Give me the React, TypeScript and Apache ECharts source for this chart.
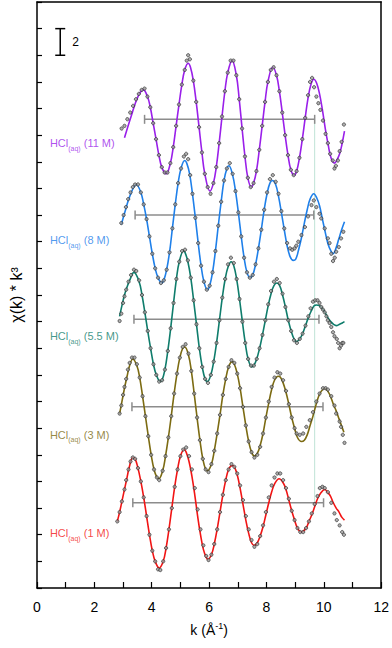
import React, { useEffect, useRef } from "react";
import * as echarts from "echarts";

const FONT = '"Liberation Sans", Arial, Helvetica, sans-serif';

// ---- data (plotted values include the vertical offsets of each spectrum) ----
const concentrations = ["11 M", "8 M", "5.5 M", "3 M", "1 M"];
const colors = ["#9a1fea", "#1f80ea", "#0f7d6c", "#7c6b12", "#f21414"];
const labelPos = [
  [0.45, 33.3],
  [0.45, 26.0],
  [0.45, 18.8],
  [0.45, 11.4],
  [0.45, 4.0],
];
// [k start, k end, level]
const windowBars = [
  [3.75, 9.68, 35.19],
  [3.42, 9.65, 28.0],
  [3.38, 9.83, 20.17],
  [3.31, 9.97, 13.61],
  [3.34, 9.99, 6.4],
];
const cutLine = [
  [9.68, 35.19],
  [9.68, 6.4],
];
// [k, y from, y to]
const scaleBar = [[0.81, 40, 42]];
const scaleBarLabel = "2";

const fit11 = [
  [3.05, 33.8], [3.28, 35.4], [3.52, 36.9], [3.71, 37.4], [3.85, 36.9], [3.95, 36.1], [4.05, 34.9], [4.15, 33.7],
  [4.25, 32.5], [4.35, 31.6], [4.5, 31.1], [4.65, 31.9], [4.75, 33.1], [4.85, 34.7], [4.95, 36.3], [5.05, 37.8],
  [5.15, 38.9], [5.27, 39.4], [5.35, 39.1], [5.45, 38.1], [5.55, 36.5], [5.65, 34.6], [5.75, 32.7], [5.85, 31.1],
  [6.03, 29.8], [6.15, 30.4], [6.25, 31.6], [6.35, 33.4], [6.45, 35.4], [6.55, 37.3], [6.65, 38.7], [6.8, 39.6],
  [6.95, 38.5], [7.05, 36.7], [7.15, 34.5], [7.25, 32.4], [7.35, 30.8], [7.47, 30.1], [7.55, 30.4], [7.65, 31.3],
  [7.75, 32.9], [7.85, 34.7], [7.95, 36.5], [8.05, 38.0], [8.22, 39.1], [8.35, 38.5], [8.45, 37.3], [8.55, 35.7],
  [8.65, 34.0], [8.75, 32.5], [8.85, 31.4], [8.96, 31.0], [9.05, 31.3], [9.15, 32.3], [9.25, 33.7], [9.35, 35.3],
  [9.45, 36.8], [9.55, 37.8], [9.65, 38.2], [9.75, 37.9], [9.85, 37.1], [9.95, 35.9], [10.05, 34.5], [10.15, 33.3],
  [10.25, 32.3], [10.37, 31.9], [10.47, 32.2], [10.55, 32.6], [10.63, 33.3], [10.72, 34.3],
];
const dots11 = [
  [2.95, 34.5], [3.05, 34.7], [3.15, 35.2], [3.25, 35.7], [3.35, 36.2], [3.45, 36.7], [3.55, 37.1], [3.65, 37.4],
  [3.75, 37.5], [3.85, 36.9], [3.95, 36.1], [4.05, 34.9], [4.15, 33.7], [4.25, 32.5], [4.35, 31.6], [4.45, 31.2],
  [4.55, 31.2], [4.65, 31.9], [4.75, 33.1], [4.85, 34.7], [4.95, 36.3], [5.05, 37.8], [5.15, 38.9], [5.22, 39.6],
  [5.27, 40.0], [5.33, 39.7], [5.45, 38.1], [5.55, 36.5], [5.65, 34.6], [5.75, 32.7], [5.85, 31.1], [5.95, 30.1],
  [6.05, 29.6], [6.15, 30.4], [6.25, 31.6], [6.35, 33.4], [6.45, 35.4], [6.55, 37.3], [6.65, 38.7], [6.75, 39.6],
  [6.85, 39.6], [6.95, 38.5], [7.05, 36.7], [7.15, 34.5], [7.25, 32.4], [7.35, 30.8], [7.45, 30.1], [7.55, 30.4],
  [7.65, 31.3], [7.75, 32.9], [7.85, 34.7], [7.95, 36.5], [8.05, 38.0], [8.15, 38.9], [8.25, 39.1], [8.35, 38.5],
  [8.45, 37.3], [8.55, 35.7], [8.65, 34.0], [8.75, 32.5], [8.85, 31.4], [8.95, 31.0], [9.05, 31.3], [9.15, 32.3],
  [9.25, 33.7], [9.35, 35.3], [9.45, 37.0], [9.52, 38.0], [9.59, 38.3], [9.66, 37.6], [9.74, 36.9], [9.81, 36.4],
  [9.88, 35.9], [9.97, 35.1], [10.06, 34.1], [10.14, 33.4], [10.22, 32.6], [10.31, 32.1], [10.37, 31.5],
  [10.42, 31.7], [10.49, 32.1], [10.55, 32.8], [10.62, 33.5], [10.7, 34.8],
];

const fit8 = [
  [2.94, 27.3], [3.1, 28.5], [3.25, 29.5], [3.46, 30.3], [3.62, 29.7], [3.72, 28.8], [3.82, 27.7], [3.92, 26.4],
  [4.02, 25.1], [4.12, 24.0], [4.22, 23.3], [4.35, 22.9], [4.42, 23.1], [4.52, 23.9], [4.62, 25.2], [4.72, 27.0],
  [4.82, 28.8], [4.92, 30.4], [5.02, 31.5], [5.15, 32.1], [5.22, 31.9], [5.32, 31.1], [5.42, 29.6], [5.52, 27.8],
  [5.62, 25.9], [5.72, 24.2], [5.82, 23.0], [5.94, 22.4], [6.02, 22.7], [6.12, 23.7], [6.22, 25.3], [6.32, 27.2],
  [6.42, 29.0], [6.52, 30.6], [6.62, 31.5], [6.69, 31.7], [6.82, 31.0], [6.92, 29.8], [7.02, 28.2], [7.12, 26.4],
  [7.22, 24.8], [7.32, 23.7], [7.43, 23.3], [7.52, 23.5], [7.62, 24.3], [7.72, 25.5], [7.82, 26.9], [7.92, 28.4],
  [8.02, 29.6], [8.12, 30.4], [8.21, 30.6], [8.32, 30.3], [8.42, 29.4], [8.52, 28.2], [8.62, 26.9], [8.72, 25.7],
  [8.82, 24.9], [8.93, 24.6], [9.02, 24.7], [9.12, 25.4], [9.22, 26.3], [9.32, 27.4], [9.42, 28.4], [9.52, 29.2],
  [9.65, 29.6], [9.75, 29.3], [9.85, 28.7], [9.95, 27.7], [10.05, 26.7], [10.15, 25.8], [10.25, 25.3], [10.32, 25.1],
  [10.42, 25.5], [10.52, 26.2], [10.62, 26.9], [10.72, 27.5],
];
const dots8 = [
  [2.94, 27.4], [3.02, 28.0], [3.1, 28.6], [3.18, 29.2], [3.26, 29.7], [3.34, 30.1], [3.42, 30.3], [3.52, 30.3],
  [3.62, 29.7], [3.72, 28.8], [3.82, 27.7], [3.92, 26.4], [4.02, 25.1], [4.12, 24.0], [4.22, 23.3], [4.32, 22.9],
  [4.42, 23.1], [4.52, 23.9], [4.62, 25.2], [4.72, 27.0], [4.82, 28.8], [4.92, 30.4], [5.02, 31.5], [5.12, 32.4],
  [5.2, 32.6], [5.27, 32.2], [5.34, 31.0], [5.42, 29.6], [5.52, 27.8], [5.62, 25.9], [5.72, 24.2], [5.82, 23.0],
  [5.92, 22.4], [6.02, 22.7], [6.12, 23.7], [6.22, 25.3], [6.32, 27.2], [6.42, 29.0], [6.52, 30.6], [6.62, 31.5],
  [6.72, 31.9], [6.82, 31.1], [6.92, 29.8], [7.02, 28.2], [7.12, 26.4], [7.22, 24.8], [7.32, 23.7], [7.42, 23.3],
  [7.52, 23.5], [7.62, 24.3], [7.72, 25.5], [7.82, 26.9], [7.92, 28.4], [8.02, 29.7], [8.12, 30.7], [8.22, 31.0],
  [8.32, 30.5], [8.42, 29.6], [8.52, 28.3], [8.62, 27.0], [8.72, 25.9], [8.82, 25.5], [8.9, 25.4], [8.98, 25.5],
  [9.04, 25.7], [9.11, 26.0], [9.22, 26.5], [9.34, 27.1], [9.45, 27.9], [9.57, 28.75], [9.65, 29.1], [9.74, 28.6],
  [9.85, 28.1], [9.91, 27.75], [10.03, 27.0], [10.14, 26.25], [10.2, 25.9], [10.26, 25.1], [10.32, 24.55],
  [10.38, 24.8], [10.43, 25.25], [10.52, 25.6], [10.6, 26.25], [10.68, 26.75],
];

const fit55 = [
  [2.88, 20.4], [2.97, 21.3], [3.05, 22.0], [3.14, 22.6], [3.23, 23.1], [3.38, 23.7], [3.56, 23.0], [3.66, 22.0],
  [3.76, 20.7], [3.86, 19.3], [3.96, 18.0], [4.06, 16.8], [4.16, 16.0], [4.3, 15.5], [4.36, 15.6], [4.46, 16.4],
  [4.56, 17.8], [4.66, 19.5], [4.76, 21.4], [4.86, 23.2], [4.96, 24.5], [5.11, 25.3], [5.16, 25.2], [5.26, 24.5],
  [5.36, 23.3], [5.46, 21.6], [5.56, 19.8], [5.66, 18.0], [5.76, 16.6], [5.86, 15.7], [5.94, 15.5], [6.06, 16.0],
  [6.16, 17.0], [6.26, 18.4], [6.36, 20.1], [6.46, 21.8], [6.56, 23.2], [6.66, 24.1], [6.77, 24.5], [6.86, 24.2],
  [6.96, 23.2], [7.06, 21.7], [7.16, 20.0], [7.26, 18.4], [7.36, 17.2], [7.49, 16.6], [7.56, 16.7], [7.66, 17.2],
  [7.76, 18.0], [7.86, 19.0], [7.96, 20.1], [8.06, 21.2], [8.16, 22.1], [8.26, 22.7], [8.36, 22.9], [8.46, 22.7],
  [8.56, 22.0], [8.66, 21.1], [8.76, 20.1], [8.86, 19.3], [8.96, 18.7], [9.05, 18.5], [9.16, 18.7], [9.26, 19.1],
  [9.36, 19.7], [9.46, 20.3], [9.56, 20.8], [9.66, 21.2], [9.74, 21.25], [9.84, 21.2], [9.94, 21.0], [10.04, 20.7],
  [10.14, 20.3], [10.24, 20.0], [10.34, 19.8], [10.43, 19.7], [10.55, 19.8], [10.64, 19.9], [10.72, 20.0],
];
const dots55 = [
  [2.88, 20.05], [2.94, 20.6], [3.0, 21.4], [3.05, 21.9], [3.11, 22.4], [3.19, 23.0], [3.28, 23.5], [3.38, 23.9],
  [3.46, 23.8], [3.56, 23.1], [3.66, 22.0], [3.76, 20.7], [3.86, 19.3], [3.96, 18.0], [4.06, 16.8], [4.16, 16.0],
  [4.26, 15.5], [4.36, 15.6], [4.46, 16.4], [4.56, 17.8], [4.66, 19.5], [4.76, 21.4], [4.86, 23.2], [4.96, 24.5],
  [5.06, 25.3], [5.16, 25.4], [5.26, 24.6], [5.36, 23.3], [5.46, 21.6], [5.56, 19.8], [5.66, 18.0], [5.76, 16.6],
  [5.86, 15.7], [5.96, 15.4], [6.06, 16.0], [6.16, 17.0], [6.26, 18.4], [6.36, 20.1], [6.46, 21.8], [6.56, 23.2],
  [6.66, 24.3], [6.76, 24.8], [6.86, 24.4], [6.96, 23.2], [7.06, 21.7], [7.16, 20.0], [7.26, 18.4], [7.36, 17.2],
  [7.46, 16.7], [7.56, 16.7], [7.66, 17.2], [7.76, 18.0], [7.86, 19.0], [7.96, 20.1], [8.06, 21.3], [8.16, 22.3],
  [8.26, 23.0], [8.36, 23.2], [8.46, 22.9], [8.56, 22.1], [8.66, 21.1], [8.76, 20.1], [8.86, 19.3], [8.96, 18.6],
  [9.06, 18.4], [9.16, 18.7], [9.26, 19.1], [9.36, 19.7], [9.46, 20.4], [9.54, 21.0], [9.62, 21.5], [9.7, 21.6],
  [9.78, 21.6], [9.85, 21.4], [9.91, 21.1], [9.97, 20.9], [10.03, 20.7], [10.09, 20.4], [10.14, 20.1], [10.2, 19.9],
  [10.26, 19.6], [10.32, 19.2], [10.37, 18.9], [10.45, 18.7], [10.5, 18.4], [10.55, 18.0], [10.6, 18.2],
  [10.64, 18.4], [10.68, 18.4],
];

const fit3 = [
  [2.88, 13.1], [2.97, 14.1], [3.05, 15.0], [3.14, 15.9], [3.23, 16.7], [3.34, 17.2], [3.48, 16.7], [3.58, 15.8],
  [3.68, 14.4], [3.78, 12.9], [3.88, 11.4], [3.98, 10.0], [4.08, 8.9], [4.18, 8.3], [4.24, 8.2], [4.38, 8.8],
  [4.48, 9.9], [4.58, 11.3], [4.68, 12.9], [4.78, 14.6], [4.88, 16.1], [4.98, 17.3], [5.08, 18.0], [5.15, 18.1],
  [5.28, 17.5], [5.38, 16.3], [5.48, 14.6], [5.58, 12.8], [5.68, 11.1], [5.78, 9.7], [5.88, 8.9], [5.94, 8.8],
  [6.08, 9.3], [6.18, 10.3], [6.28, 11.6], [6.38, 13.0], [6.48, 14.5], [6.58, 15.7], [6.68, 16.6], [6.8, 17.0],
  [6.88, 16.8], [6.98, 16.1], [7.08, 15.0], [7.18, 13.6], [7.28, 12.2], [7.38, 11.0], [7.48, 10.2], [7.58, 9.9],
  [7.68, 10.1], [7.78, 10.7], [7.88, 11.6], [7.98, 12.8], [8.08, 13.9], [8.18, 14.9], [8.28, 15.6], [8.41, 15.9],
  [8.48, 15.85], [8.58, 15.4], [8.68, 14.7], [8.78, 13.8], [8.88, 12.8], [8.98, 12.0], [9.08, 11.3], [9.22, 11.0],
  [9.32, 11.1], [9.42, 11.5], [9.52, 12.2], [9.62, 12.9], [9.72, 13.7], [9.82, 14.4], [9.92, 14.8], [10.03, 15.0],
  [10.13, 14.8], [10.23, 14.4], [10.33, 13.8], [10.43, 13.3], [10.53, 12.7], [10.63, 12.1], [10.7, 11.7],
];
const dots3 = [
  [2.88, 13.1], [2.94, 13.7], [3.0, 14.5], [3.05, 15.1], [3.11, 15.7], [3.17, 16.4], [3.23, 16.9], [3.31, 17.3],
  [3.4, 17.3], [3.48, 16.8], [3.58, 15.8], [3.68, 14.4], [3.78, 12.9], [3.88, 11.4], [3.98, 10.0], [4.08, 8.9],
  [4.18, 8.3], [4.26, 8.1], [4.38, 8.8], [4.48, 9.9], [4.58, 11.3], [4.68, 12.9], [4.78, 14.6], [4.88, 16.1],
  [4.98, 17.3], [5.08, 18.1], [5.18, 18.3], [5.28, 17.6], [5.38, 16.3], [5.48, 14.6], [5.58, 12.8], [5.68, 11.1],
  [5.78, 9.7], [5.88, 8.9], [5.98, 8.7], [6.08, 9.3], [6.18, 10.3], [6.28, 11.6], [6.38, 13.0], [6.48, 14.5],
  [6.58, 15.7], [6.68, 16.6], [6.78, 17.1], [6.88, 16.9], [6.98, 16.1], [7.08, 15.0], [7.18, 13.6], [7.28, 12.2],
  [7.38, 11.0], [7.48, 10.2], [7.58, 9.8], [7.68, 10.0], [7.78, 10.6], [7.88, 11.6], [7.98, 12.8], [8.08, 14.0],
  [8.18, 15.1], [8.28, 15.8], [8.38, 16.2], [8.48, 16.1], [8.58, 15.6], [8.68, 14.8], [8.78, 13.8], [8.88, 12.8],
  [8.98, 12.0], [9.05, 11.6], [9.16, 11.5], [9.28, 11.6], [9.39, 12.1], [9.51, 12.6], [9.62, 13.2], [9.74, 14.0],
  [9.85, 14.6], [9.97, 15.0], [10.06, 15.0], [10.14, 14.9], [10.26, 14.4], [10.37, 13.7], [10.43, 13.1],
  [10.55, 12.5], [10.6, 12.1], [10.66, 11.5], [10.72, 10.9],
];

const fit1 = [
  [2.8, 5.0], [2.88, 5.7], [2.96, 6.5], [3.05, 7.4], [3.13, 8.2], [3.22, 9.1], [3.34, 9.8], [3.42, 9.7],
  [3.52, 9.0], [3.62, 8.0], [3.72, 6.8], [3.82, 5.4], [3.92, 4.0], [4.02, 2.8], [4.12, 2.0], [4.26, 1.5],
  [4.4, 2.0], [4.5, 3.0], [4.6, 4.4], [4.7, 6.0], [4.8, 7.6], [4.9, 8.9], [5.0, 9.9], [5.13, 10.4], [5.2, 10.2],
  [5.3, 9.5], [5.4, 8.4], [5.5, 7.0], [5.6, 5.4], [5.7, 4.0], [5.8, 2.9], [5.9, 2.3], [5.96, 2.15], [6.08, 2.5],
  [6.18, 3.3], [6.28, 4.4], [6.38, 5.7], [6.48, 7.0], [6.58, 8.1], [6.68, 8.9], [6.8, 9.2], [6.88, 9.1],
  [6.98, 8.5], [7.08, 7.5], [7.18, 6.3], [7.28, 5.1], [7.38, 4.1], [7.48, 3.4], [7.57, 3.2], [7.68, 3.4],
  [7.78, 3.9], [7.88, 4.6], [7.98, 5.5], [8.08, 6.4], [8.18, 7.2], [8.28, 7.8], [8.44, 8.2], [8.58, 7.9],
  [8.68, 7.4], [8.78, 6.6], [8.88, 5.8], [8.98, 5.1], [9.08, 4.5], [9.22, 4.2], [9.38, 4.5], [9.48, 5.0],
  [9.58, 5.5], [9.68, 6.1], [9.78, 6.7], [9.88, 7.1], [10.03, 7.4], [10.13, 7.2], [10.23, 6.9], [10.33, 6.4],
  [10.43, 6.0], [10.53, 5.7], [10.63, 5.3], [10.72, 5.1],
];
const dots1 = [
  [2.8, 5.0], [2.88, 5.7], [2.96, 6.5], [3.05, 7.4], [3.11, 8.1], [3.19, 8.9], [3.26, 9.5], [3.34, 9.8],
  [3.42, 9.7], [3.52, 9.0], [3.62, 8.0], [3.72, 6.8], [3.82, 5.4], [3.92, 4.0], [4.02, 2.8], [4.12, 2.0],
  [4.22, 1.4], [4.3, 1.35], [4.4, 2.0], [4.5, 3.0], [4.6, 4.4], [4.7, 6.0], [4.8, 7.6], [4.9, 8.9], [5.0, 9.9],
  [5.1, 10.4], [5.2, 10.55], [5.3, 9.9], [5.4, 8.9], [5.5, 7.5], [5.6, 5.9], [5.7, 4.4], [5.8, 3.2], [5.9, 2.4],
  [5.98, 2.1], [6.08, 2.5], [6.18, 3.3], [6.28, 4.4], [6.38, 5.7], [6.48, 7.0], [6.58, 8.1], [6.68, 8.9],
  [6.78, 9.3], [6.88, 9.1], [6.98, 8.6], [7.08, 7.7], [7.18, 6.6], [7.28, 5.4], [7.38, 4.4], [7.48, 3.6],
  [7.58, 3.1], [7.68, 3.3], [7.78, 3.9], [7.88, 4.7], [7.98, 5.7], [8.08, 6.8], [8.18, 7.7], [8.28, 8.3],
  [8.38, 8.6], [8.48, 8.6], [8.58, 8.1], [8.68, 7.5], [8.78, 6.7], [8.88, 5.8], [8.98, 5.1], [9.08, 4.5],
  [9.18, 4.2], [9.28, 4.2], [9.38, 4.5], [9.48, 5.0], [9.58, 5.6], [9.68, 6.3], [9.78, 6.9], [9.86, 7.5],
  [9.95, 7.6], [10.03, 7.5], [10.14, 7.2], [10.26, 6.4], [10.37, 5.6], [10.45, 5.1], [10.55, 4.7], [10.64, 4.2],
  [10.7, 4.0],
];

const fits = [fit11, fit8, fit55, fit3, fit1];
const dots = [dots11, dots8, dots55, dots3, dots1];

export default function App() {
  const ref = useRef<HTMLDivElement>(null);

  useEffect(() => {
    if (!ref.current) return;
    const chart = echarts.init(ref.current, null, { renderer: "svg" });

    const fitSeries = fits.map((d, i) => ({
      type: "line",
      data: d,
      smooth: 0.4,
      showSymbol: false,
      symbol: "none",
      lineStyle: { color: colors[i], width: 1.6 },
      z: 3,
      silent: true,
    }));
    const dotSeries = dots.map((d) => ({
      type: "scatter",
      data: d,
      symbol: "circle",
      symbolSize: 3.3,
      itemStyle: { color: "#9c9c9c", borderColor: "#262626", borderWidth: 0.8 },
      z: 4,
      silent: true,
    }));

    const labelSeries = {
      type: "scatter",
      symbolSize: 0,
      silent: true,
      z: 5,
      data: labelPos.map((p, i) => ({
        value: p,
        label: {
          show: true,
          position: "right",
          distance: 0,
          formatter: `{m|HCl}{s|(aq)}{m| (${concentrations[i]})}`,
          rich: {
            m: { fontSize: 11, color: colors[i], fontFamily: FONT, lineHeight: 14, verticalAlign: "top" },
            s: { fontSize: 7, color: colors[i], fontFamily: FONT, lineHeight: 8, verticalAlign: "bottom" },
          },
        },
      })),
    };

    const barSeries = {
      type: "custom",
      data: windowBars,
      silent: true,
      z: 2,
      renderItem: (_p: any, api: any) => {
        const a = api.coord([api.value(0), api.value(2)]);
        const b = api.coord([api.value(1), api.value(2)]);
        const st = { stroke: "#8c8c8c", lineWidth: 1.5 };
        return {
          type: "group",
          children: [
            { type: "line", shape: { x1: a[0], y1: a[1], x2: b[0], y2: b[1] }, style: st },
            { type: "line", shape: { x1: a[0], y1: a[1] - 4.5, x2: a[0], y2: a[1] + 4.5 }, style: st },
            { type: "line", shape: { x1: b[0], y1: b[1] - 4.5, x2: b[0], y2: b[1] + 4.5 }, style: st },
          ],
        };
      },
    };

    const scaleSeries = {
      type: "custom",
      data: scaleBar,
      silent: true,
      z: 5,
      renderItem: (_p: any, api: any) => {
        const a = api.coord([api.value(0), api.value(1)]);
        const b = api.coord([api.value(0), api.value(2)]);
        const st = { stroke: "#000", lineWidth: 1.5 };
        return {
          type: "group",
          children: [
            { type: "line", shape: { x1: a[0], y1: a[1], x2: b[0], y2: b[1] }, style: st },
            { type: "line", shape: { x1: a[0] - 5, y1: a[1], x2: a[0] + 5, y2: a[1] }, style: st },
            { type: "line", shape: { x1: b[0] - 5, y1: b[1], x2: b[0] + 5, y2: b[1] }, style: st },
            {
              type: "text",
              style: {
                text: scaleBarLabel,
                x: a[0] + 12,
                y: (a[1] + b[1]) / 2,
                fontSize: 12,
                fontFamily: FONT,
                fill: "#000",
                verticalAlign: "middle",
                align: "left",
              },
            },
          ],
        };
      },
    };

    const cutSeries = {
      type: "line",
      data: cutLine,
      symbol: "none",
      lineStyle: { color: "#bfe3d6", width: 1 },
      z: 1,
      silent: true,
    };

    chart.setOption({
      animation: false,
      grid: { left: 35, right: 10, top: 2, bottom: 60 },
      xAxis: [
        {
          type: "value",
          min: 0,
          max: 12,
          interval: 1,
          name: "{a|k (Å}{b|-1}{a|)}",
          nameLocation: "middle",
          nameGap: 33,
          nameTextStyle: {
            rich: {
              a: { fontSize: 14, fontFamily: FONT, color: "#000", lineHeight: 16, verticalAlign: "bottom" },
              b: { fontSize: 9, fontFamily: FONT, color: "#000", lineHeight: 16, verticalAlign: "top" },
            },
          },
          axisLine: { lineStyle: { color: "#000", width: 1.5 } },
          axisTick: { inside: true, length: 6, lineStyle: { color: "#000", width: 1.2 } },
          axisLabel: {
            margin: 12,
            fontSize: 14,
            fontFamily: FONT,
            color: "#000",
            formatter: (v: number) => (v % 2 === 0 ? String(v) : ""),
          },
          splitLine: { show: false },
        },
        {
          type: "value",
          position: "top",
          min: 0,
          max: 12,
          axisLine: { show: true, onZero: false, lineStyle: { color: "#000", width: 1.5 } },
          axisTick: { show: false },
          axisLabel: { show: false },
          splitLine: { show: false },
        },
      ],
      yAxis: [
        {
          type: "value",
          min: 0,
          max: 44,
          interval: 2,
          name: "χ(k) * k³",
          nameLocation: "middle",
          nameGap: 13,
          nameTextStyle: { fontSize: 16, fontFamily: FONT, color: "#000" },
          axisLine: { show: true, lineStyle: { color: "#000", width: 1.5 } },
          axisTick: { show: true, inside: true, length: 5, lineStyle: { color: "#000", width: 1.2 } },
          axisLabel: { show: false },
          splitLine: { show: false },
        },
        {
          type: "value",
          position: "right",
          min: 0,
          max: 44,
          axisLine: { show: true, onZero: false, lineStyle: { color: "#000", width: 1.5 } },
          axisTick: { show: false },
          axisLabel: { show: false },
          splitLine: { show: false },
        },
      ],
      series: [cutSeries, barSeries, ...fitSeries, ...dotSeries, labelSeries, scaleSeries],
    });

    return () => chart.dispose();
  }, []);

  return (
    <div
      ref={ref}
      style={{ position: "fixed", left: 0, top: 0, width: 392, height: 648, background: "#fff" }}
    />
  );
}
